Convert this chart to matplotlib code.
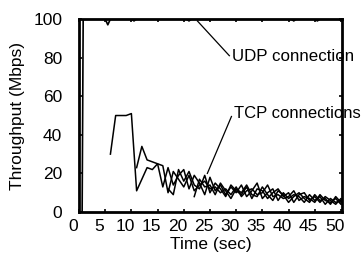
import numpy as np
import matplotlib
matplotlib.use("Agg")
import matplotlib.pyplot as plt
import matplotlib.transforms as mtransforms

plt.rcParams['font.family'] = ['Liberation Sans', 'DejaVu Sans']

# UDP flow (time, throughput)
udp_t = [0.6, 0.8, 5.0, 5.5, 6.0, 10.0, 10.5, 11.0, 20.5, 21.0, 21.5,
         40.5, 41.0, 41.5, 45.0, 45.5, 46.0, 49.5, 50.0, 50.5]
udp_v = [0, 100, 100, 97, 100, 100, 99, 100, 100, 99, 100,
         100, 99, 100, 100, 99, 100, 100, 99.3, 100]

# TCP flows
tcp1_t = list(range(6, 52))
tcp1_v = [30, 50, 50, 50, 51, 11, 17, 23, 22, 25, 24, 10, 21, 17, 13, 19, 11, 14,
          16, 12, 13, 10, 12, 9, 13, 8, 11, 12, 9, 10, 14, 8, 9, 7, 8, 11, 6, 8,
          7, 5, 9, 6, 5, 7, 4, 5]

tcp2_t = list(range(11, 52))
tcp2_v = [23, 34, 27, 26, 25, 13, 23, 14, 19, 22, 12, 19, 15, 9, 18, 11, 14, 9,
          13, 10, 14, 8, 11, 15, 7, 10, 12, 6, 10, 7, 9, 8, 5, 9, 6, 8, 4, 7, 5,
          6, 3]

tcp3_t = list(range(17, 52))
tcp3_v = [12, 9, 22, 16, 21, 14, 12, 19, 10, 15, 12, 8, 14, 11, 9, 13, 7, 12,
          11, 7, 10, 12, 8, 10, 5, 9, 10, 6, 8, 5, 8, 6, 4, 7, 4]

tcp4_t = list(range(22, 52))
tcp4_v = [8, 17, 13, 14, 9, 15, 11, 7, 12, 10, 14, 9, 8, 13, 9, 6, 11, 9, 5, 8,
          10, 7, 5, 9, 6, 7, 4, 8, 5, 6]

xticks = [0, 5, 10, 15, 20, 25, 30, 35, 40, 45, 50]
yticks = [0, 20, 40, 60, 80, 100]

fs = 12.5

fig = plt.figure(figsize=(3.63, 2.57), dpi=100)
ax = fig.add_axes([0.2176, 0.175, 0.7245, 0.751])

ax.plot(udp_t, udp_v, color='black', lw=1.2)
for t, v in [(tcp1_t, tcp1_v), (tcp2_t, tcp2_v), (tcp3_t, tcp3_v), (tcp4_t, tcp4_v)]:
    ax.plot(t, v, color='black', lw=1.1)

ax.set_xlim(0, 50.2)
ax.set_ylim(0, 100)
ax.set_xticks(xticks)
ax.set_yticks(yticks)
ax.tick_params(direction='in', length=2.5, width=1.2, labelsize=fs,
               right=True, top=True, pad=5)
ax.tick_params(axis='y', pad=12)
for sp in ax.spines.values():
    sp.set_linewidth(2)

# tick labels sit a bit left of their ticks
offset = mtransforms.ScaledTranslation(-6 / 100, 0, fig.dpi_scale_trans)
for lab in ax.get_xticklabels():
    lab.set_transform(lab.get_transform() + offset)

ax.set_xlabel("Time (sec)", fontsize=fs, labelpad=2)
ax.set_ylabel("Throughput (Mbps)", fontsize=fs, labelpad=6)

# annotation leaders
ax.plot([22.6, 28.7], [99, 81], color='black', lw=0.9, clip_on=False)
ax.text(29.2, 80.5, "UDP connection", fontsize=12.2, va='center', ha='left')
ax.plot([24.5, 29.1], [20, 49.5], color='black', lw=0.9, clip_on=False)
ax.text(29.6, 51, "TCP connections", fontsize=12, va='center', ha='left')

fig.savefig("out.png", dpi=100)
